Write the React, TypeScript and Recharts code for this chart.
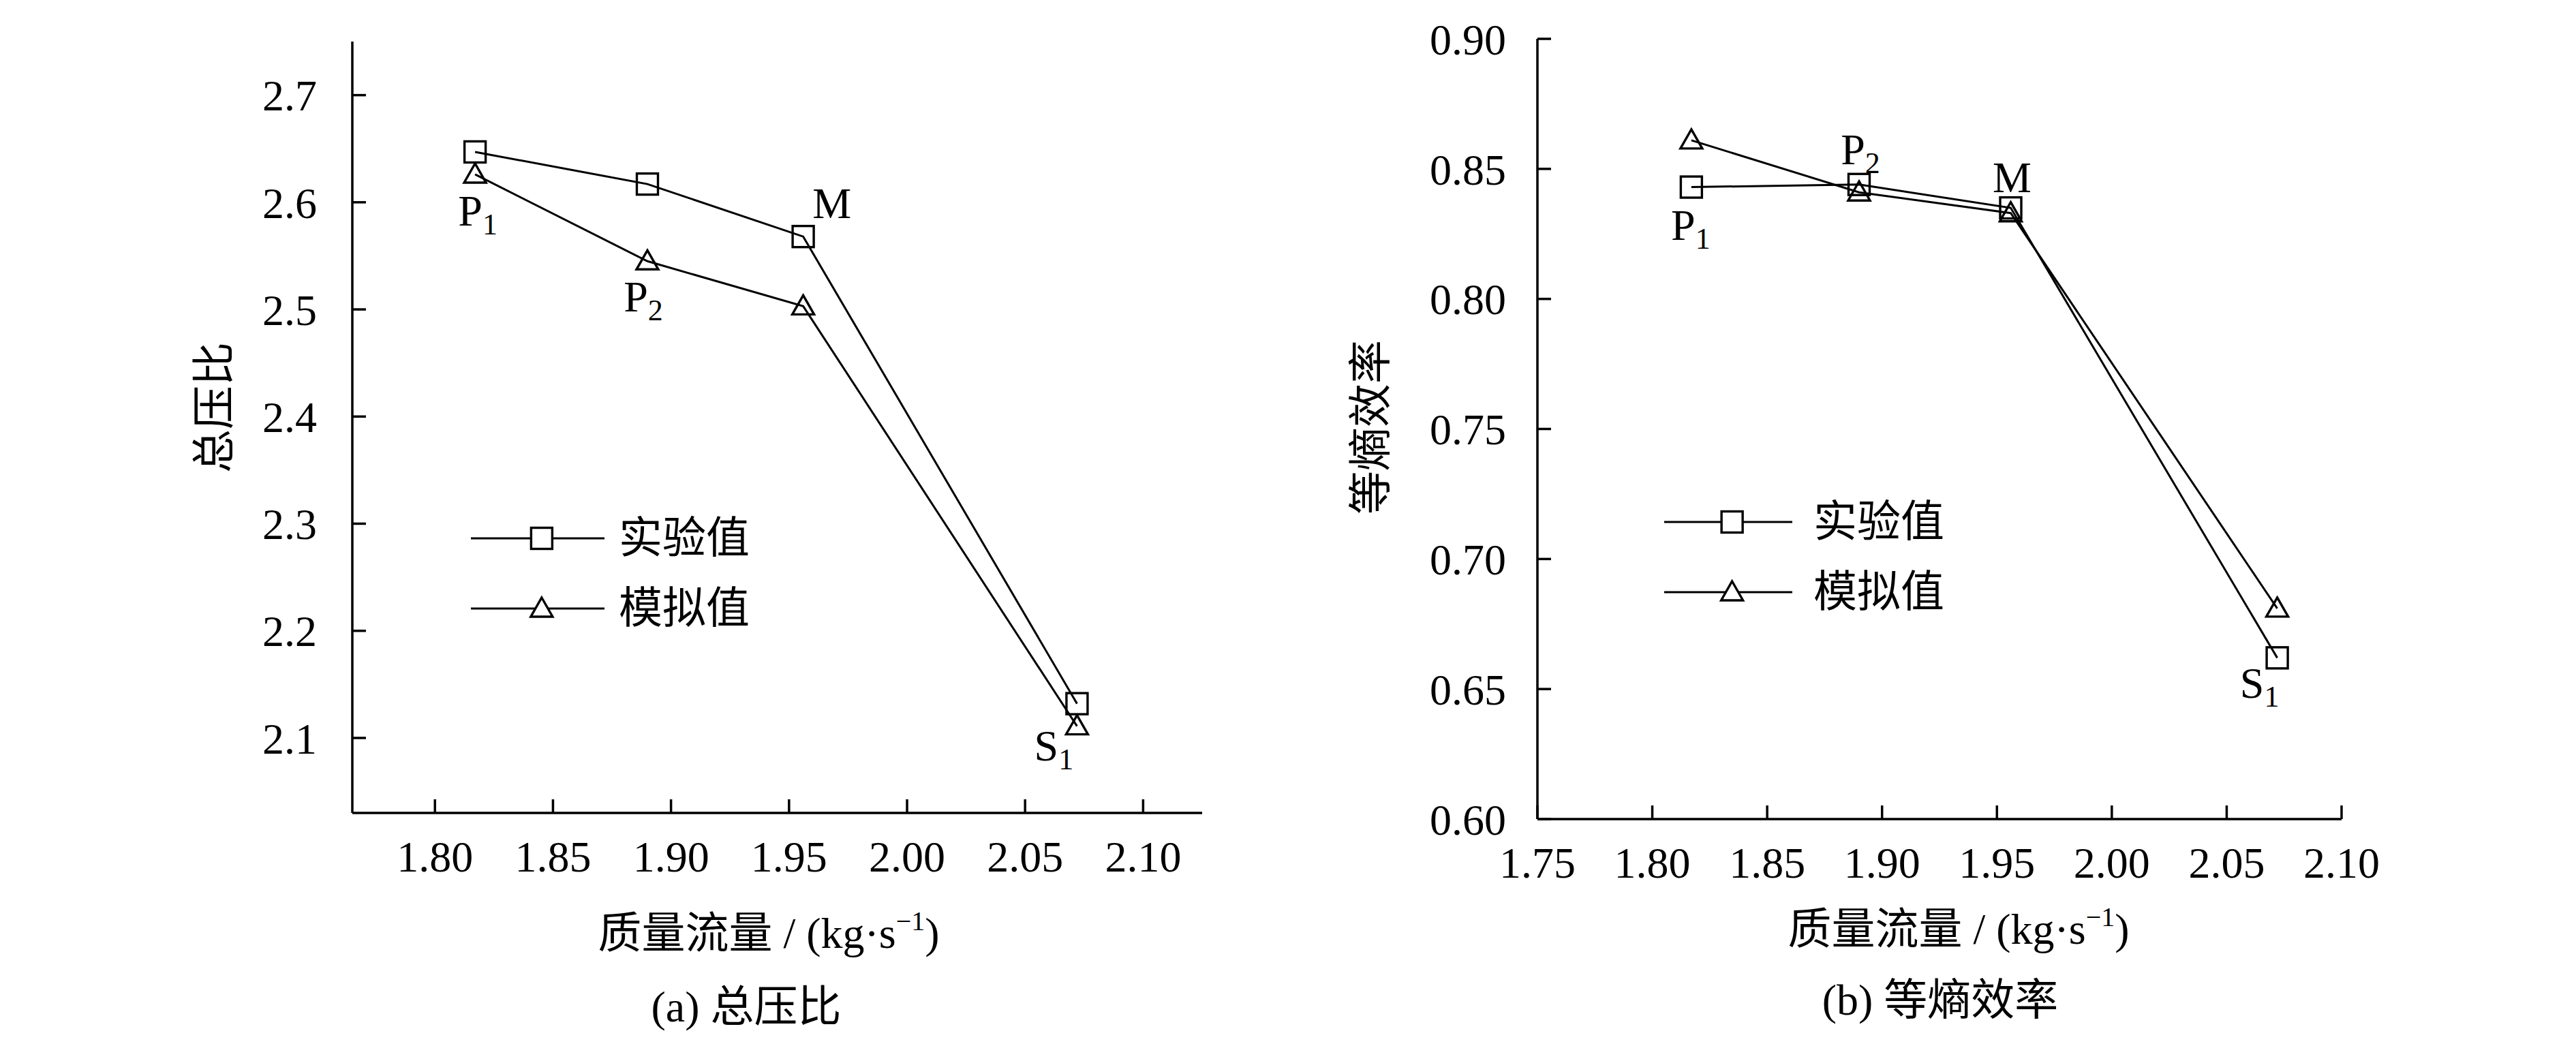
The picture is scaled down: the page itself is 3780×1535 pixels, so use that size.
import React from 'react';
import { LineChart, Line, XAxis, YAxis, Legend, LabelList } from 'recharts';

// operating points shared by both panels
const massFlow = [1.817, 1.89, 1.956, 2.072];
const pointNames = ['P1', 'P2', 'M', 'S1'];
const seriesNames = ['实验值', '模拟值'];

// (a) total pressure ratio
const pressureExp = [2.647, 2.617, 2.568, 2.132];
const pressureSim = [2.626, 2.545, 2.503, 2.111];
const pressureXTicks = [1.8, 1.85, 1.9, 1.95, 2.0, 2.05, 2.1];
const pressureYTicks = [2.1, 2.2, 2.3, 2.4, 2.5, 2.6, 2.7];

// (b) isentropic efficiency
const efficiencyExp = [0.843, 0.844, 0.835, 0.662];
const efficiencySim = [0.861, 0.841, 0.833, 0.681];
const efficiencyXTicks = [1.75, 1.8, 1.85, 1.9, 1.95, 2.0, 2.05, 2.1];
const efficiencyYTicks = [0.6, 0.65, 0.7, 0.75, 0.8, 0.85, 0.9];

// label offsets (px) from the experimental point
const pressureLabelOffsets = [[4, 86], [-6, 165], [42, -49], [-34, 61]];
const efficiencyLabelOffsets = [[-1, 55], [2, -52], [2, -45], [-26, 37]];

const pressureData = massFlow.map((flow, i) => ({
  flow,
  name: pointNames[i],
  exp: pressureExp[i],
  sim: pressureSim[i],
}));

const efficiencyData = massFlow.map((flow, i) => ({
  flow,
  name: pointNames[i],
  exp: efficiencyExp[i],
  sim: efficiencySim[i],
}));

const FONT = '"Liberation Serif", "Noto Sans CJK SC", serif';
const INK = '#000';
const AXIS_W = 3.5;

const SquareDot = (props: any) => {
  const { cx, cy, index } = props;
  if (cx == null || cy == null) return null;
  return (
    <rect
      key={`sq-${index}`}
      x={cx - 15.5}
      y={cy - 15.5}
      width={31}
      height={31}
      fill="none"
      stroke={INK}
      strokeWidth={3.4}
    />
  );
};

const TriangleDot = (props: any) => {
  const { cx, cy, index } = props;
  if (cx == null || cy == null) return null;
  return (
    <path
      key={`tr-${index}`}
      d={`M${cx},${cy - 16} L${cx + 16},${cy + 12} L${cx - 16},${cy + 12} Z`}
      fill="none"
      stroke={INK}
      strokeWidth={3.4}
      strokeLinejoin="miter"
    />
  );
};

const makePointLabel = (offsets: number[][]) => (props: any) => {
  const { x, y, value, index } = props;
  const [dx, dy] = offsets[index];
  const main = String(value).charAt(0);
  const sub = String(value).slice(1);
  return (
    <text
      key={`lbl-${index}`}
      x={x + dx}
      y={y + dy + 22}
      textAnchor="middle"
      fontFamily={FONT}
      fontSize={64}
      fill={INK}
    >
      {main}
      {sub && (
        <tspan fontSize={44} dy={13}>
          {sub}
        </tspan>
      )}
    </text>
  );
};

const LegendBox = ({ lineLen, gap }: { lineLen: number; gap: number }) => (
  <div style={{ fontFamily: FONT, fontSize: 64, color: INK }}>
    {seriesNames.map((name, i) => (
      <div key={name} style={{ display: 'flex', alignItems: 'center', height: 103, whiteSpace: 'nowrap' }}>
        <svg width={lineLen} height={40} style={{ display: 'block' }}>
          <line x1={0} y1={20} x2={lineLen} y2={20} stroke={INK} strokeWidth={3} />
          {i === 0 ? (
            <rect x={lineLen * 0.53 - 15.5} y={4.5} width={31} height={31} fill="#fff" stroke={INK} strokeWidth={3.4} />
          ) : (
            <path
              d={`M${lineLen * 0.53},${4} L${lineLen * 0.53 + 16},${32} L${lineLen * 0.53 - 16},${32} Z`}
              fill="#fff"
              stroke={INK}
              strokeWidth={3.4}
            />
          )}
        </svg>
        <span style={{ marginLeft: gap, lineHeight: 1 }}>{name}</span>
      </div>
    ))}
  </div>
);

const Centered = ({ x, y, rotate, children }: { x: number; y: number; rotate?: boolean; children: React.ReactNode }) => (
  <div
    style={{
      position: 'absolute',
      left: x,
      top: y,
      transform: `translate(-50%, -50%)${rotate ? ' rotate(-90deg)' : ''}`,
      whiteSpace: 'nowrap',
      fontFamily: FONT,
      fontSize: 64,
      lineHeight: 1,
      color: INK,
    }}
  >
    {children}
  </div>
);

const FlowTitle = () => (
  <span>
    质量流量 / (kg·s
    <span style={{ fontSize: 40, position: 'relative', top: -26 }}>−1</span>)
  </span>
);

interface PanelProps {
  data: Array<{ flow: number; name: string; exp: number; sim: number }>;
  xDomain: [number, number];
  yDomain: [number, number];
  xTicks: number[];
  yTicks: number[];
  yDigits: number;
  yTickMargin: number;
  margin: { top: number; right: number; bottom: number; left: number };
  labelOffsets: number[][];
  legendPos: { left: number; top: number };
  legendLine: number;
  legendGap: number;
}

const Panel = ({
  data,
  xDomain,
  yDomain,
  xTicks,
  yTicks,
  yDigits,
  yTickMargin,
  margin,
  labelOffsets,
  legendPos,
  legendLine,
  legendGap,
}: PanelProps) => {
  const tickStyle = { fontFamily: FONT, fontSize: 64, fill: INK };
  const axisLine = { stroke: INK, strokeWidth: AXIS_W };
  return (
    <LineChart width={1890} height={1535} data={data} margin={margin}>
      <XAxis
        dataKey="flow"
        type="number"
        domain={xDomain}
        allowDataOverflow
        ticks={xTicks}
        interval={0}
        tickFormatter={(v: number) => v.toFixed(2)}
        tick={tickStyle}
        tickSize={-20}
        tickMargin={61}
        axisLine={axisLine}
        tickLine={axisLine}
        height={120}
      />
      <YAxis
        type="number"
        domain={yDomain}
        allowDataOverflow
        ticks={yTicks}
        interval={0}
        tickFormatter={(v: number) => v.toFixed(yDigits)}
        tick={tickStyle}
        tickSize={-20}
        tickMargin={yTickMargin}
        axisLine={axisLine}
        tickLine={axisLine}
        width={150}
      />
      <XAxis
        xAxisId="frame"
        orientation="top"
        type="number"
        domain={xDomain}
        allowDataOverflow
        height={0}
        tick={false}
        tickLine={false}
        axisLine={axisLine}
      />
      <YAxis
        yAxisId="frame"
        orientation="right"
        type="number"
        domain={yDomain}
        allowDataOverflow
        width={0}
        tick={false}
        tickLine={false}
        axisLine={axisLine}
      />
      <Line
        dataKey="exp"
        name={seriesNames[0]}
        stroke={INK}
        strokeWidth={3}
        dot={SquareDot}
        activeDot={false}
        isAnimationActive={false}
      >
        <LabelList dataKey="name" content={makePointLabel(labelOffsets)} />
      </Line>
      <Line
        dataKey="sim"
        name={seriesNames[1]}
        stroke={INK}
        strokeWidth={3}
        dot={TriangleDot}
        activeDot={false}
        isAnimationActive={false}
      />
      {/* centred + middle keeps the legend from reserving plot space */}
      <Legend
        layout="horizontal"
        verticalAlign="middle"
        align="center"
        wrapperStyle={{ left: legendPos.left, top: legendPos.top, width: 600 }}
        content={<LegendBox lineLen={legendLine} gap={legendGap} />}
      />
    </LineChart>
  );
};

export default function App() {
  return (
    <div
      style={{
        position: 'absolute',
        left: 0,
        top: 0,
        width: 3780,
        height: 1535,
        background: '#fff',
        overflow: 'hidden',
      }}
    >
      <div style={{ position: 'absolute', left: 0, top: 0 }}>
        <Panel
          data={pressureData}
          xDomain={[1.765, 2.125]}
          yDomain={[2.03, 2.75]}
          xTicks={pressureXTicks}
          yTicks={pressureYTicks}
          yDigits={1}
          yTickMargin={72}
          margin={{ top: 61, right: 126, bottom: 222, left: 367 }}
          labelOffsets={pressureLabelOffsets}
          legendPos={{ left: 691, top: 738 }}
          legendLine={196}
          legendGap={21}
        />
      </div>
      <div style={{ position: 'absolute', left: 1890, top: 0 }}>
        <Panel
          data={efficiencyData}
          xDomain={[1.75, 2.1]}
          yDomain={[0.6, 0.9]}
          xTicks={efficiencyXTicks}
          yTicks={efficiencyYTicks}
          yDigits={2}
          yTickMargin={66}
          margin={{ top: 57, right: 344, bottom: 213, left: 216 }}
          labelOffsets={efficiencyLabelOffsets}
          legendPos={{ left: 552, top: 714 }}
          legendLine={188}
          legendGap={31}
        />
      </div>

      <Centered x={315} y={598} rotate>
        总压比
      </Centered>
      <Centered x={1128} y={1370}>
        <FlowTitle />
      </Centered>
      <Centered x={1095} y={1478}>
        (a) 总压比
      </Centered>

      <Centered x={2012} y={627} rotate>
        等熵效率
      </Centered>
      <Centered x={2874} y={1364}>
        <FlowTitle />
      </Centered>
      <Centered x={2847} y={1468}>
        (b) 等熵效率
      </Centered>
    </div>
  );
}
